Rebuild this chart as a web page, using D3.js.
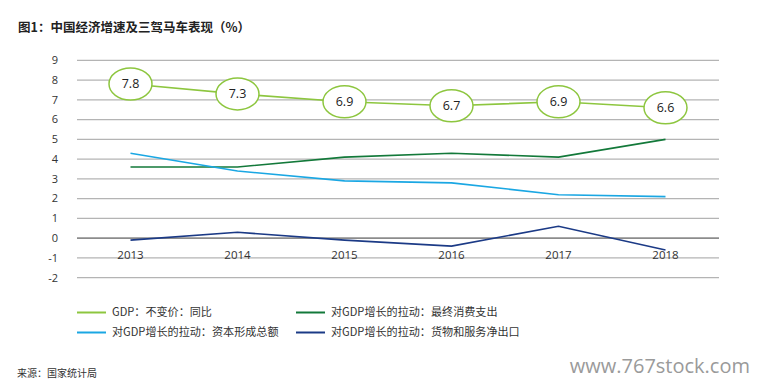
<!DOCTYPE html>
<meta charset="utf-8">
<head>
<style>
  body { margin: 0; background: #fff; }
  text { font-family: "Open Sans", "Noto Sans CJK SC", sans-serif; }
  .cjk { font-family: "Noto Sans CJK SC", sans-serif; }
</style>
</head>
<body>
<div id="chart"></div>
<script src="https://d3js.org/d3.v7.min.js"></script>
<script>
  // data
  const years = ["2013", "2014", "2015", "2016", "2017", "2018"];
  const gdp = [7.8, 7.3, 6.9, 6.7, 6.9, 6.6];
  const consumption = [3.6, 3.6, 4.1, 4.3, 4.1, 5.0];
  const capital = [4.3, 3.4, 2.9, 2.8, 2.2, 2.1];
  const netExport = [-0.1, 0.3, -0.1, -0.4, 0.6, -0.6];
  const yTicks = [9, 8, 7, 6, 5, 4, 3, 2, 1, 0, -1, -2];
  const seriesNames = ["GDP：不变价：同比", "对GDP增长的拉动：最终消费支出",
                       "对GDP增长的拉动：资本形成总额", "对GDP增长的拉动：货物和服务净出口"];
  const colors = ["#8DC63F", "#13793A", "#1AA7E3", "#1B3A86"];

  const W = 763, H = 383;
  const svg = d3.select("#chart").append("svg")
    .attr("width", W).attr("height", H);

  // title
  svg.append("text").attr("class", "cjk")
    .attr("x", 18).attr("y", 32)
    .style("font-size", "12.5px").style("font-weight", "bold").attr("fill", "#222")
    .text("图1：中国经济增速及三驾马车表现（%）");

  const x = d3.scalePoint().domain(years).range([77, 719]).padding(0.5);
  const y = d3.scaleLinear().domain([-2, 9]).range([277.7, 60.3]);

  // grid lines
  svg.append("g").selectAll("line").data(yTicks).join("line")
    .attr("x1", 77).attr("x2", 719)
    .attr("y1", d => y(d)).attr("y2", d => y(d))
    .attr("stroke", d => d === 0 ? "#8c8c8c" : "#b4b4b4")
    .attr("stroke-width", d => d === 0 ? 1.8 : 1.3);

  // y tick labels
  svg.append("g").selectAll("text").data(yTicks).join("text")
    .attr("x", 58).attr("y", d => y(d)).attr("dy", "0.35em")
    .attr("text-anchor", "end")
    .style("font-size", "11px").attr("fill", "#333")
    .text(d => d);

  // year labels under the zero line
  svg.append("g").selectAll("text").data(years).join("text")
    .attr("x", d => x(d)).attr("y", y(0) + 16.5)
    .attr("dy", "0.35em").attr("text-anchor", "middle")
    .style("font-size", "11.5px").attr("fill", "#333")
    .text(d => d);

  const line = d3.line().x((d, i) => x(years[i])).y(d => y(d));
  const series = [gdp, consumption, capital, netExport];

  series.forEach((s, k) => {
    svg.append("path").datum(s)
      .attr("d", line)
      .attr("fill", "none")
      .attr("stroke", colors[k])
      .attr("stroke-width", 1.6);
  });

  // GDP value bubbles
  const bub = svg.append("g").selectAll("g").data(gdp).join("g")
    .attr("transform", (d, i) => `translate(${x(years[i])},${y(d)})`);
  bub.append("ellipse")
    .attr("rx", 21.5).attr("ry", 16)
    .attr("fill", "#fff").attr("stroke", colors[0]).attr("stroke-width", 1.5);
  bub.append("text")
    .attr("text-anchor", "middle").attr("dy", "0.35em")
    .style("font-size", "12.5px").attr("fill", "#222")
    .text(d => d.toFixed(1));

  // legend
  const legPos = [[77, 312.5], [296, 312.5], [77, 332.5], [296, 332.5]];
  const leg = svg.append("g").selectAll("g").data(seriesNames).join("g")
    .attr("transform", (d, i) => `translate(${legPos[i][0]},${legPos[i][1]})`);
  leg.append("line")
    .attr("x1", 0).attr("x2", 29)
    .attr("stroke", (d, i) => colors[i]).attr("stroke-width", 2);
  leg.append("text").attr("class", "cjk")
    .attr("x", 35).attr("dy", "0.35em")
    .style("font-size", "11.1px").attr("fill", "#333")
    .text(d => d);

  // source + watermark
  svg.append("text").attr("class", "cjk")
    .attr("x", 17).attr("y", 373).attr("dy", "0.35em")
    .style("font-size", "10px").attr("fill", "#333")
    .text("来源：国家统计局");
  svg.append("text")
    .attr("x", 750).attr("y", 366).attr("dy", "0.35em")
    .attr("text-anchor", "end")
    .style("font-size", "20px").attr("fill", "#9a9a9a")
    .text("www.767stock.com");
</script>
</body>
